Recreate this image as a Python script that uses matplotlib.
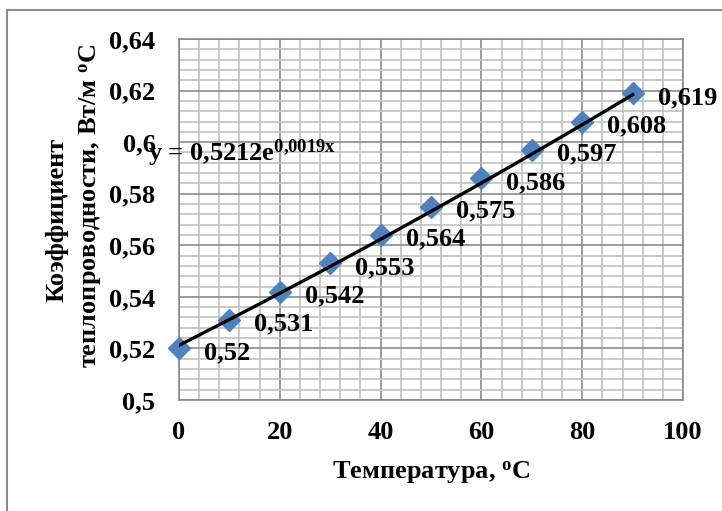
import matplotlib
matplotlib.use("Agg")
import matplotlib.pyplot as plt
import numpy as np
from matplotlib.ticker import MultipleLocator, FuncFormatter
from matplotlib.lines import Line2D

plt.rcParams['font.family'] = ['Liberation Serif', 'DejaVu Serif']
plt.rcParams['font.weight'] = 'bold'
plt.rcParams['mathtext.fontset'] = 'custom'
plt.rcParams['mathtext.rm'] = 'Liberation Serif:bold'
plt.rcParams['mathtext.bf'] = 'Liberation Serif:bold'
plt.rcParams['mathtext.it'] = 'Liberation Serif:bold'
plt.rcParams['mathtext.default'] = 'bf'

# Thermal conductivity of water vs temperature
temperature = [0, 10, 20, 30, 40, 50, 60, 70, 80, 90]
conductivity = [0.52, 0.531, 0.542, 0.553, 0.564, 0.575, 0.586, 0.597, 0.608, 0.619]
value_labels = ["0,52", "0,531", "0,542", "0,553", "0,564", "0,575", "0,586", "0,597", "0,608", "0,619"]

# exponential trend y = a * exp(b x)
trend_a = 0.5212
trend_b = 0.0019

FS = 19

fig = plt.figure(figsize=(7.22, 5.11), dpi=100)
ax = fig.add_axes([179/722, 1-400/511, (683-179)/722, (400-39)/511])

ax.set_xlim(0, 100)
ax.set_ylim(0.5, 0.64)
ax.xaxis.set_major_locator(MultipleLocator(20))
ax.xaxis.set_minor_locator(MultipleLocator(4))
ax.yaxis.set_major_locator(MultipleLocator(0.02))
ax.yaxis.set_minor_locator(MultipleLocator(0.004))

def yfmt(v, pos):
    s = f"{v:.2f}".rstrip('0').rstrip('.')
    return s.replace('.', ',')

ax.yaxis.set_major_formatter(FuncFormatter(yfmt))
ax.grid(which='minor', color='#c0c0c0', linewidth=1.2)
ax.grid(which='major', color='#8a8a8a', linewidth=1.2)
ax.set_axisbelow(True)
for s in ax.spines.values():
    s.set_color('#8a8a8a')
    s.set_linewidth(1.2)
ax.tick_params(which='both', length=0, labelsize=FS)
ax.tick_params(axis='y', pad=17)
ax.tick_params(axis='x', pad=15)

xs = np.linspace(0, 90, 200)
ax.plot(xs, trend_a * np.exp(trend_b * xs), color='black', linewidth=2.4, zorder=4)
ax.plot(temperature, conductivity, linestyle='none', marker='D', markersize=11,
        color='#4f81bd', zorder=3, clip_on=False)

for x, y, lab in zip(temperature, conductivity, value_labels):
    ax.annotate(lab, (x, y), xytext=(18, -3), textcoords='offset points',
                ha='left', va='center', fontsize=FS, fontweight='bold',
                annotation_clip=False, zorder=5)

ax.text(-6.2, 0.5955, "y = 0,5212e$^{0{,}0019x}$", ha='left', va='center',
        fontsize=FS, fontweight='bold', clip_on=False, zorder=5)

fig.text(431/722, 1-473/511, "Температура, $^{o}$C", ha='center', va='center',
         fontsize=FS, fontweight='bold')
fig.text(57/722, 1-220/511, "Коэффициент", rotation=90, ha='center', va='center',
         fontsize=FS, fontweight='bold')
fig.text(91/722, 1-206/511, "теплопроводности, Вт/м $^{o}$C", rotation=90,
         ha='center', va='center', fontsize=FS, fontweight='bold')

# outer chart frame
fig.add_artist(Line2D([7/722, 7/722], [0, 1-10/511], color='#8c8c8c', linewidth=1.5,
                      transform=fig.transFigure))
fig.add_artist(Line2D([7/722, 1], [1-10/511, 1-10/511], color='#8c8c8c', linewidth=1.5,
                      transform=fig.transFigure))

fig.savefig("out.png", dpi=100)
